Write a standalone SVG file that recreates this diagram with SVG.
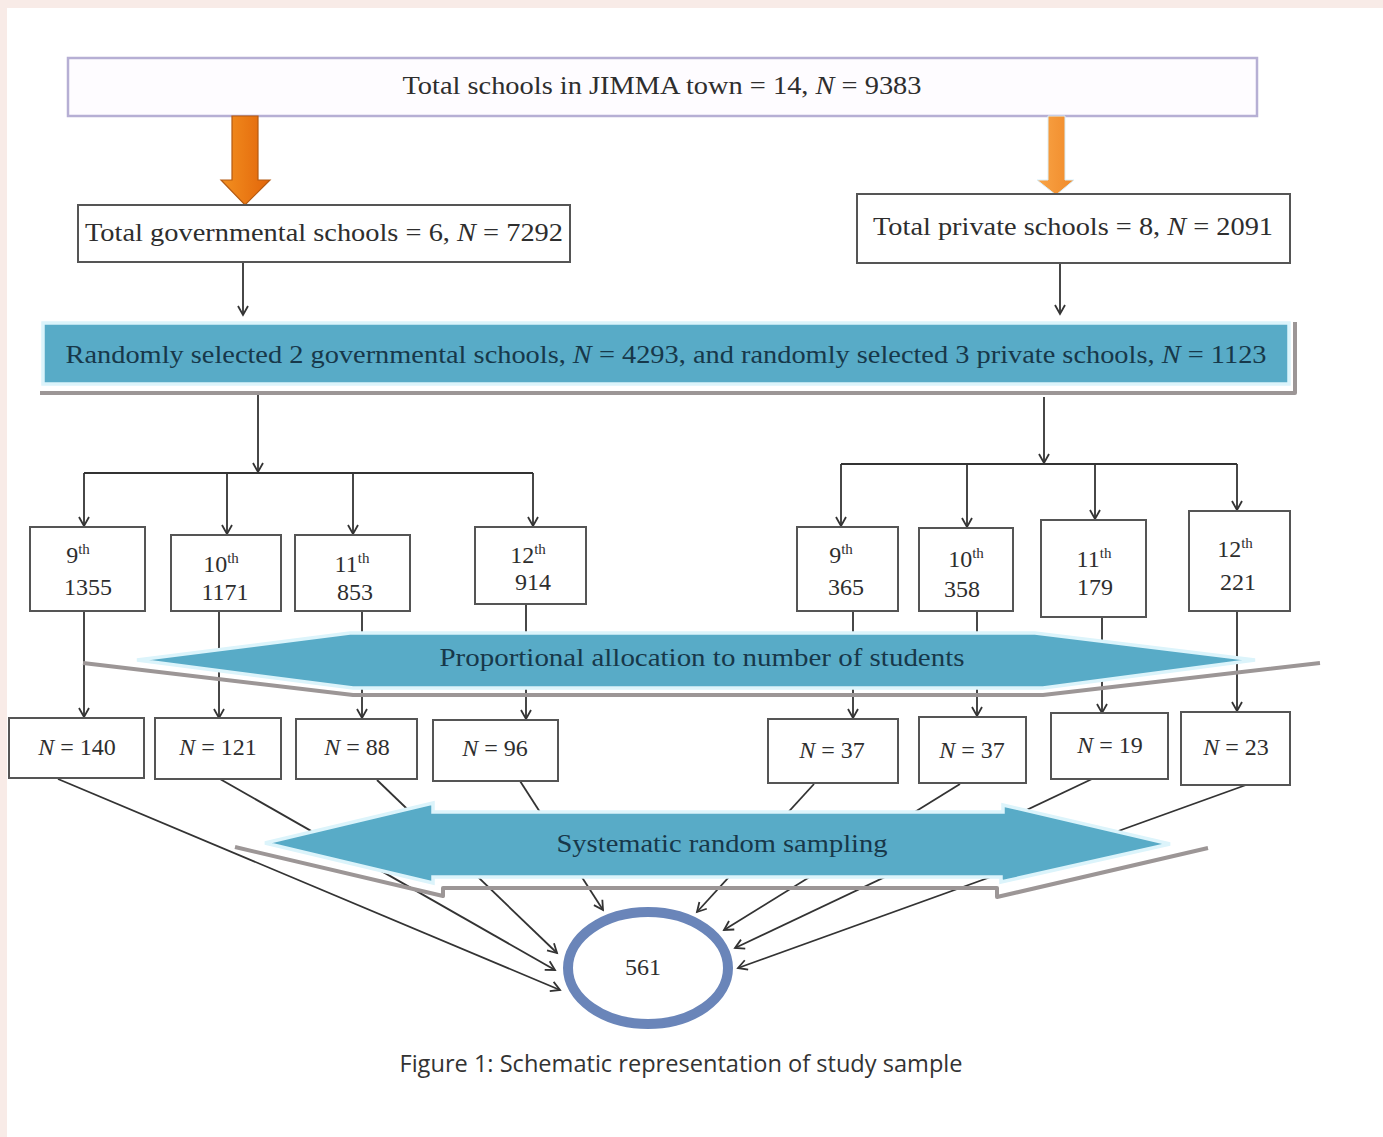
<svg xmlns="http://www.w3.org/2000/svg" width="1383" height="1137" viewBox="0 0 1383 1137">
<style>
.t{font-family:"Liberation Serif","Times New Roman",serif;fill:#2e2e2e}
.bt{font-family:"Liberation Serif","Times New Roman",serif;fill:#17384a}
.box{fill:#fff;stroke:#555;stroke-width:2}
.c{stroke:#333;stroke-width:1.8;fill:none}
.a{marker-end:url(#ah)}
.sh{stroke:#9c9696;stroke-width:4;fill:none;stroke-linejoin:round}
.ban{fill:#58abc7;stroke:#dcf4fb;stroke-width:3.5;stroke-linejoin:miter}
</style>
<defs>
<marker id="ah" markerUnits="userSpaceOnUse" markerWidth="20" markerHeight="20" viewBox="-10 -10 20 20" refX="0" refY="0" orient="auto" overflow="visible">
<path d="M-9,-5 L0,0 L-9,5" fill="none" stroke="#333" stroke-width="1.8"/>
</marker>
<linearGradient id="og1" x1="0" y1="0" x2="1" y2="0">
<stop offset="0" stop-color="#f39020"/><stop offset="1" stop-color="#e2650a"/>
</linearGradient>
<linearGradient id="og2" x1="0" y1="0" x2="1" y2="0">
<stop offset="0" stop-color="#f9a446"/><stop offset="1" stop-color="#f08a2a"/>
</linearGradient>
</defs>
<rect x="0" y="0" width="1383" height="1137" fill="#f8ebe7"/>
<rect x="7" y="8" width="1376" height="1129" fill="#ffffff"/>

<g id="connectors">
<line class="c a" x1="243" y1="262" x2="243" y2="315"/>
<line class="c a" x1="1060" y1="263" x2="1060" y2="314"/>
<line class="c a" x1="258" y1="395" x2="258" y2="472"/>
<line class="c" x1="84" y1="473" x2="533" y2="473"/>
<line class="c a" x1="84" y1="473" x2="84" y2="526"/>
<line class="c a" x1="227" y1="473" x2="227" y2="534"/>
<line class="c a" x1="353" y1="473" x2="353" y2="534"/>
<line class="c a" x1="533" y1="473" x2="533" y2="526"/>
<line class="c a" x1="1044" y1="397" x2="1044" y2="463"/>
<line class="c" x1="841" y1="464" x2="1237" y2="464"/>
<line class="c a" x1="841" y1="464" x2="841" y2="526"/>
<line class="c a" x1="967" y1="464" x2="967" y2="527"/>
<line class="c a" x1="1095" y1="464" x2="1095" y2="519"/>
<line class="c a" x1="1237" y1="464" x2="1237" y2="510"/>
<line class="c a" x1="84" y1="611" x2="84" y2="717"/>
<line class="c a" x1="219" y1="611" x2="219" y2="718"/>
<line class="c a" x1="362" y1="611" x2="362" y2="718"/>
<line class="c a" x1="526" y1="604" x2="526" y2="719"/>
<line class="c a" x1="853" y1="612" x2="853" y2="718"/>
<line class="c a" x1="977" y1="612" x2="977" y2="716"/>
<line class="c a" x1="1102" y1="618" x2="1102" y2="713"/>
<line class="c a" x1="1237" y1="612" x2="1237" y2="711"/>
<line class="c a" x1="58" y1="779" x2="560" y2="990"/>
<line class="c a" x1="220" y1="779" x2="555" y2="970"/>
<line class="c a" x1="377" y1="780" x2="557" y2="953"/>
<line class="c a" x1="520" y1="781" x2="603" y2="910"/>
<line class="c a" x1="814" y1="784" x2="697" y2="912"/>
<line class="c a" x1="960" y1="784" x2="724" y2="930"/>
<line class="c a" x1="1092" y1="779" x2="735" y2="948"/>
<line class="c a" x1="1246" y1="785" x2="738" y2="968"/>
</g>

<g id="top">
<rect x="68" y="58" width="1189" height="58" fill="#fefcff" stroke="#b6afd4" stroke-width="2.5"/>
<text class="t" x="662" y="94" font-size="25" text-anchor="middle" textLength="519" lengthAdjust="spacingAndGlyphs">Total schools in JIMMA town = 14, <tspan font-style="italic">N</tspan> = 9383</text>
</g>
<g id="arrow-gov">
<polygon points="232,116 258,116 258,180 270,180 245,205 221,180 232,180" fill="url(#og1)" stroke="#b45a12" stroke-width="1.2"/>
</g>
<g id="arrow-priv">
<polygon points="1048,116 1065,116 1065,180 1074,180 1056,195 1037,180 1048,180" fill="url(#og2)" stroke="#d9eef8" stroke-width="1"/>
</g>
<g id="gov">
<rect class="box" x="78" y="205" width="492" height="57"/>
<text class="t" x="324" y="241" font-size="25" text-anchor="middle" textLength="478" lengthAdjust="spacingAndGlyphs">Total governmental schools = 6, <tspan font-style="italic">N</tspan> = 7292</text>
</g>
<g id="priv">
<rect class="box" x="857" y="194" width="433" height="69"/>
<text class="t" x="1073" y="235" font-size="25" text-anchor="middle" textLength="400" lengthAdjust="spacingAndGlyphs">Total private schools = 8, <tspan font-style="italic">N</tspan> = 2091</text>
</g>
<g id="selected">
<polyline class="sh" points="40,393 1295,393 1295,322"/>
<rect class="ban" x="43" y="323" width="1246" height="61"/>
<text class="bt" x="666" y="363" font-size="25" text-anchor="middle" textLength="1201" lengthAdjust="spacingAndGlyphs">Randomly selected 2 governmental schools, <tspan font-style="italic">N</tspan> = 4293, and randomly selected 3 private schools, <tspan font-style="italic">N</tspan> = 1123</text>
</g>

<g id="g9"><rect class="box" x="30" y="527" width="115" height="84"/>
<text class="t" x="78" y="563" font-size="24" text-anchor="middle">9<tspan font-size="15" dy="-9">th</tspan></text>
<text class="t" x="88" y="595" font-size="24" text-anchor="middle">1355</text></g>
<g id="g10"><rect class="box" x="171" y="535" width="110" height="76"/>
<text class="t" x="221" y="572" font-size="24" text-anchor="middle">10<tspan font-size="15" dy="-9">th</tspan></text>
<text class="t" x="225" y="600" font-size="24" text-anchor="middle">1171</text></g>
<g id="g11"><rect class="box" x="295" y="535" width="115" height="76"/>
<text class="t" x="352" y="572" font-size="24" text-anchor="middle">11<tspan font-size="15" dy="-9">th</tspan></text>
<text class="t" x="355" y="600" font-size="24" text-anchor="middle">853</text></g>
<g id="g12"><rect class="box" x="475" y="527" width="111" height="77"/>
<text class="t" x="528" y="563" font-size="24" text-anchor="middle">12<tspan font-size="15" dy="-9">th</tspan></text>
<text class="t" x="533" y="590" font-size="24" text-anchor="middle">914</text></g>

<g id="p9"><rect class="box" x="797" y="527" width="101" height="84"/>
<text class="t" x="841" y="563" font-size="24" text-anchor="middle">9<tspan font-size="15" dy="-9">th</tspan></text>
<text class="t" x="846" y="595" font-size="24" text-anchor="middle">365</text></g>
<g id="p10"><rect class="box" x="919" y="528" width="94" height="83"/>
<text class="t" x="966" y="567" font-size="24" text-anchor="middle">10<tspan font-size="15" dy="-9">th</tspan></text>
<text class="t" x="962" y="597" font-size="24" text-anchor="middle">358</text></g>
<g id="p11"><rect class="box" x="1041" y="520" width="105" height="97"/>
<text class="t" x="1094" y="567" font-size="24" text-anchor="middle">11<tspan font-size="15" dy="-9">th</tspan></text>
<text class="t" x="1095" y="595" font-size="24" text-anchor="middle">179</text></g>
<g id="p12"><rect class="box" x="1189" y="511" width="101" height="100"/>
<text class="t" x="1235" y="557" font-size="24" text-anchor="middle">12<tspan font-size="15" dy="-9">th</tspan></text>
<text class="t" x="1238" y="590" font-size="24" text-anchor="middle">221</text></g>

<g id="proportional">
<polyline class="sh" points="83,663 353,695 1043,695 1320,663"/>
<polygon class="ban" points="137,660 350,633 1035,633 1255,660 1043,688 353,688"/>
<text class="bt" x="702" y="666" font-size="25" text-anchor="middle" textLength="525" lengthAdjust="spacingAndGlyphs">Proportional allocation to number of students</text>
</g>

<g id="n140"><rect class="box" x="9" y="718" width="135" height="60"/>
<text class="t" x="77" y="755" font-size="24" text-anchor="middle"><tspan font-style="italic">N</tspan> = 140</text></g>
<g id="n121"><rect class="box" x="155" y="718" width="126" height="61"/>
<text class="t" x="218" y="755" font-size="24" text-anchor="middle"><tspan font-style="italic">N</tspan> = 121</text></g>
<g id="n88"><rect class="box" x="296" y="719" width="121" height="60"/>
<text class="t" x="357" y="755" font-size="24" text-anchor="middle"><tspan font-style="italic">N</tspan> = 88</text></g>
<g id="n96"><rect class="box" x="433" y="720" width="125" height="61"/>
<text class="t" x="495" y="756" font-size="24" text-anchor="middle"><tspan font-style="italic">N</tspan> = 96</text></g>
<g id="n37a"><rect class="box" x="768" y="719" width="130" height="64"/>
<text class="t" x="832" y="758" font-size="24" text-anchor="middle"><tspan font-style="italic">N</tspan> = 37</text></g>
<g id="n37b"><rect class="box" x="919" y="717" width="107" height="66"/>
<text class="t" x="972" y="758" font-size="24" text-anchor="middle"><tspan font-style="italic">N</tspan> = 37</text></g>
<g id="n19"><rect class="box" x="1051" y="713" width="117" height="66"/>
<text class="t" x="1110" y="753" font-size="24" text-anchor="middle"><tspan font-style="italic">N</tspan> = 19</text></g>
<g id="n23"><rect class="box" x="1181" y="712" width="109" height="73"/>
<text class="t" x="1236" y="755" font-size="24" text-anchor="middle"><tspan font-style="italic">N</tspan> = 23</text></g>

<g id="systematic">
<polyline class="sh" points="235,847 443,896 443,888 997,888 997,897 1208,848"/>
<polygon class="ban" points="265,843 433,803 433,812 1003,812 1003,805 1170,844 1001,882 1001,877 433,877 433,883"/>
<text class="bt" x="722" y="852" font-size="25" text-anchor="middle" textLength="331" lengthAdjust="spacingAndGlyphs">Systematic random sampling</text>
</g>

<g id="total">
<ellipse cx="648" cy="968" rx="80" ry="56" fill="#fff" stroke="#6a85b9" stroke-width="10"/>
<text class="t" x="643" y="975" font-size="24" text-anchor="middle">561</text>
</g>

<text x="681" y="1072" font-family="'Open Sans','Noto Sans',sans-serif" font-size="24" fill="#333" text-anchor="middle" textLength="563" lengthAdjust="spacingAndGlyphs">Figure 1: Schematic representation of study sample</text>
</svg>
